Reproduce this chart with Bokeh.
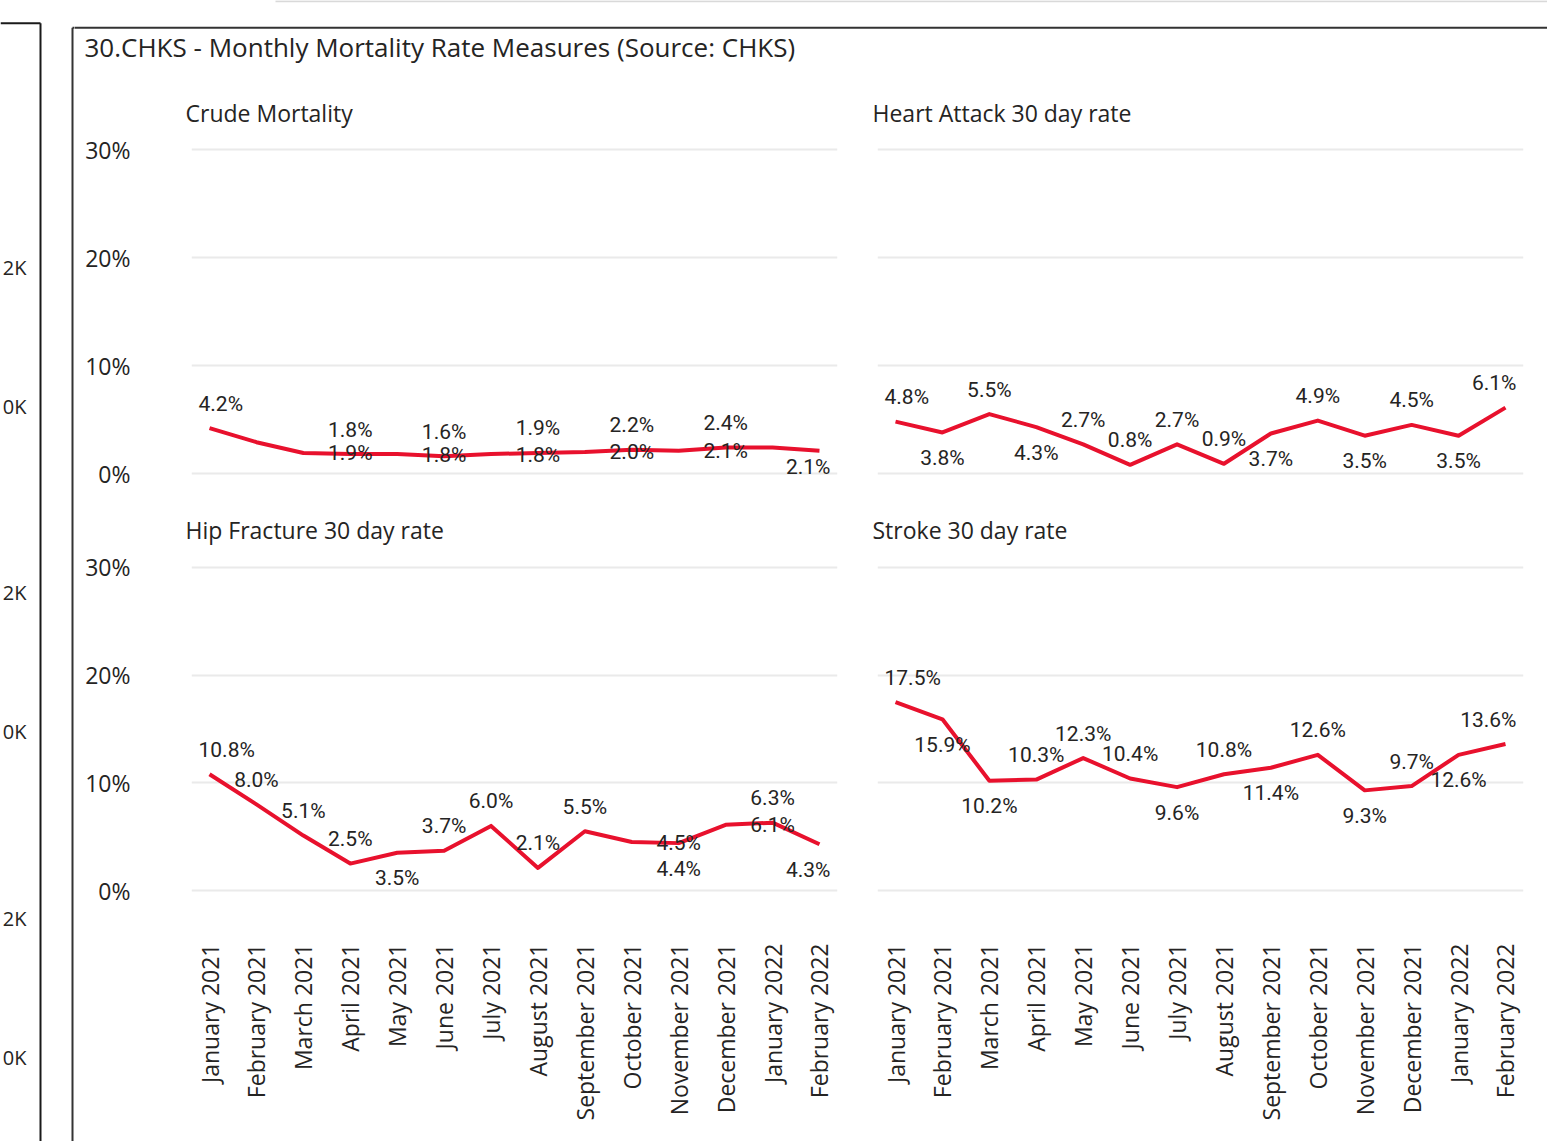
from math import pi
from bokeh.plotting import figure
from bokeh.layouts import row, column
from bokeh.models import Range1d, FixedTicker, PrintfTickFormatter, ColumnDataSource
from bokeh.core.properties import value
from bokeh.embed import file_html
from bokeh.resources import INLINE

# ---------------- data ----------------
months = ["January 2021", "February 2021", "March 2021", "April 2021", "May 2021",
          "June 2021", "July 2021", "August 2021", "September 2021", "October 2021",
          "November 2021", "December 2021", "January 2022", "February 2022"]

crude = [4.2, 2.9, 1.9, 1.8, 1.8, 1.6, 1.8, 1.9, 2.0, 2.2, 2.1, 2.4, 2.4, 2.1]
heart = [4.8, 3.8, 5.5, 4.3, 2.7, 0.8, 2.7, 0.9, 3.7, 4.9, 3.5, 4.5, 3.5, 6.1]
hip = [10.8, 8.0, 5.1, 2.5, 3.5, 3.7, 6.0, 2.1, 5.5, 4.5, 4.4, 6.1, 6.3, 4.3]
stroke = [17.5, 15.9, 10.2, 10.3, 12.3, 10.4, 9.6, 10.8, 11.4, 12.6, 9.3, 9.7, 12.6, 13.6]

y_ticks = [0, 10, 20, 30]

title_text = "30.CHKS - Monthly Mortality Rate Measures (Source: CHKS)"
panel_titles = ["Crude Mortality", "Heart Attack 30 day rate",
                "Hip Fracture 30 day rate", "Stroke 30 day rate"]

# label placement codes (a=above, b=below, r=shifted to next slot, c=below clamped, ''=hidden)
crude_pos = ["a", "", "r", "a", "r", "a", "r", "a", "r", "a", "r", "a", "", "c"]
heart_pos = ["a", "b", "a", "b", "a", "a", "a", "a", "b", "a", "b", "a", "b", "a"]
hip_pos = ["a", "a", "a", "a", "b", "a", "a", "a", "a", "r", "b", "r", "a", "b"]
stroke_pos = ["a", "b", "b", "a", "a", "a", "b", "a", "b", "a", "b", "a", "b", "a"]

frag_labels = ["2K", "0K", "2K", "0K", "2K", "0K"]

# ---------------- styling / geometry ----------------
W, H = 1547, 1141
TEXT = "#252423"
RED = "#E8112D"
FONT = "Open Sans"
LFONT = "Roboto"
GRID = "#EAEAEA"
HEAD_H = 85
ROW_SPLIT = 497


def deco_fig(x0, x1, y0, y1):
    p = figure(width=x1 - x0, height=y1 - y0, x_range=Range1d(x0, x1),
               y_range=Range1d(y1, y0), output_backend="svg", toolbar_location=None,
               min_border=0)
    p.axis.visible = False
    p.grid.visible = False
    p.outline_line_color = None
    return p


# left fragment of neighbouring visual + left border of main visual
frag = deco_fig(0, 74, 0, H)
frag.segment(x0=[0, 40], y0=[22.7, 22.7], x1=[40, 40], y1=[22.7, H + 5],
             line_color="#1a1a1a", line_width=2)
frag.segment(x0=[72, 72], y0=[27.3, 27.3], x1=[72, 75], y1=[H + 5, 27.3],
             line_color="#333333", line_width=2)
frag.text(x=[26] * 6, y=[267, 406, 592, 731, 918, 1057], text=frag_labels,
          text_align="right", text_baseline="middle", text_font=value(FONT),
          text_font_size="20px", text_color=TEXT)

# header
header = deco_fig(74, W, 0, HEAD_H)
header.segment(x0=[275], y0=[0.7], x1=[W + 5], y1=[0.7],
               line_color="#D9D9D9", line_width=2)
header.segment(x0=[73], y0=[27.3], x1=[W + 5], y1=[27.3],
               line_color="#333333", line_width=2)
header.text(x=[84], y=[46], text=[title_text], text_align="left",
            text_baseline="middle", text_font=value(FONT), text_font_size="26px",
            text_color=TEXT)


def label_source(vals, codes):
    d = dict(x=[], y=[], t=[], dx=[], dy=[], al=[])
    n = len(vals)
    offs = {"a": -24.5, "b": 25.5, "r": 0.5, "c": 16}
    for i, (v, c) in enumerate(zip(vals, codes)):
        if c == "":
            continue
        if i == 0:
            al, dx = "left", -11
        elif i == n - 1:
            al, dx = "right", 11
        else:
            al, dx = "center", 0
        d["x"].append(i + 1 if c == "r" else i)
        d["y"].append(v)
        d["t"].append(f"{v:.1f}%")
        d["dx"].append(dx)
        d["dy"].append(offs[c])
        d["al"].append(al)
    return ColumnDataSource(d)


def panel(title, vals, codes, x0, x1, y0, y1, fl, fr, ft, fb, yr, show_y, show_x, toff):
    p = figure(width=x1 - x0, height=y1 - y0, x_range=Range1d(-0.384, 13.384),
               y_range=Range1d(*yr), output_backend="svg", toolbar_location=None,
               min_border_left=fl - x0, min_border_right=x1 - fr,
               min_border_top=ft - y0, min_border_bottom=y1 - fb)
    p.outline_line_color = None
    p.title.text = title
    p.title.align = "left"
    p.title.offset = toff
    p.title.standoff = 13
    p.title.text_font = FONT
    p.title.text_font_size = "23px"
    p.title.text_font_style = "normal"
    p.title.text_color = TEXT

    p.xgrid.visible = False
    p.ygrid.ticker = FixedTicker(ticks=y_ticks)
    p.ygrid.grid_line_color = GRID
    p.ygrid.grid_line_width = 2

    ya = p.yaxis[0]
    ya.ticker = FixedTicker(ticks=y_ticks)
    ya.formatter = PrintfTickFormatter(format="%d%%")
    ya.axis_line_color = None
    ya.major_tick_line_color = None
    ya.minor_tick_line_color = None
    ya.major_tick_out = 0
    ya.major_label_standoff = 61
    ya.major_label_text_font = FONT
    ya.major_label_text_font_size = "23px"
    ya.major_label_text_color = TEXT
    ya.visible = show_y

    xa = p.xaxis[0]
    xa.ticker = FixedTicker(ticks=list(range(len(months))))
    xa.major_label_overrides = {i: m for i, m in enumerate(months)}
    xa.major_label_orientation = pi / 2
    xa.axis_line_color = None
    xa.major_tick_line_color = None
    xa.minor_tick_line_color = None
    xa.major_tick_out = 0
    xa.major_label_standoff = 8
    xa.major_label_text_font = FONT
    xa.major_label_text_font_size = "23px"
    xa.major_label_text_color = TEXT
    xa.visible = show_x

    p.line(x=list(range(len(vals))), y=vals, line_color=RED, line_width=4,
           line_join="round")
    src = label_source(vals, codes)
    p.text(x="x", y="y", text="t", x_offset="dx", y_offset="dy", text_align="al",
           text_baseline="middle", text_font=value(LFONT), text_font_size="21px",
           text_color=TEXT, source=src)
    return p


top_yr = ((473 - 490) / 10.8, (473 - 135) / 10.8)
bot_yr = ((890 - 935) / 10.767, (890 - 552) / 10.767)

tl = panel(panel_titles[0], crude, crude_pos, 74, 857, HEAD_H, ROW_SPLIT, 191, 837, 135, 490,
           top_yr, True, False, -6)
tr = panel(panel_titles[1], heart, heart_pos, 857, W, HEAD_H, ROW_SPLIT, 877, 1523, 135, 490,
           top_yr, False, False, -5)
bl = panel(panel_titles[2], hip, hip_pos, 74, 857, ROW_SPLIT, H, 191, 837, 552, 935,
           bot_yr, True, True, -6)
br = panel(panel_titles[3], stroke, stroke_pos, 857, W, ROW_SPLIT, H, 877, 1523, 552, 935,
           bot_yr, False, True, -5)

layout = row(frag, column(header, row(tl, tr), row(bl, br)))

open("out.html", "w").write(file_html(layout, INLINE))
